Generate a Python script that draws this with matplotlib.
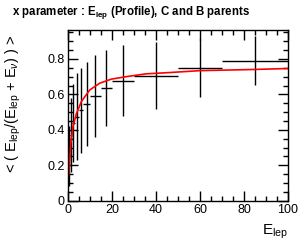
import matplotlib
matplotlib.use('Agg')
import matplotlib.pyplot as plt
from matplotlib.ticker import MultipleLocator
import numpy as np

plt.rcParams['font.family'] = ['Liberation Sans', 'DejaVu Sans']
plt.rcParams['mathtext.fontset'] = 'custom'
plt.rcParams['mathtext.rm'] = 'Liberation Sans'
plt.rcParams['mathtext.it'] = 'Liberation Sans:italic'
plt.rcParams['mathtext.bf'] = 'Liberation Sans:bold'

# profile bins (E_lep edges) and bin means / errors
bin_edges = [0, 1, 2, 3, 5, 7, 10, 15, 20, 30, 50, 70, 100]
means = [0.25, 0.37, 0.44, 0.475, 0.51, 0.546, 0.59, 0.635, 0.676, 0.705, 0.748, 0.791]
errors = [0.17, 0.21, 0.22, 0.245, 0.24, 0.235, 0.233, 0.215, 0.20, 0.19, 0.165, 0.14]

# fitted curve
fit_x = [0.0, 0.45, 1.1, 2.3, 3.8, 6.1, 9.9, 14.4, 19.7, 26.5, 35.6, 46, 60, 82.6, 100]
fit_y = [0.136, 0.155, 0.305, 0.42, 0.49, 0.56, 0.625, 0.663, 0.686, 0.70, 0.716, 0.723, 0.734, 0.74, 0.746]

edges = np.array(bin_edges)
centers = (edges[:-1] + edges[1:]) / 2
half_w = (edges[1:] - edges[:-1]) / 2

fig = plt.figure(figsize=(2.99, 2.45), dpi=100)
ax = fig.add_axes([0.2274, 0.181, 0.7358, 0.697])

ax.errorbar(centers, means, xerr=half_w, yerr=errors, fmt='none',
            ecolor='black', elinewidth=1.0, capsize=0)
ax.plot(fit_x, fit_y, color='red', lw=1.2)

ax.set_xlim(0, 100)
ax.set_ylim(0, 0.964)
ax.xaxis.set_major_locator(MultipleLocator(20))
ax.xaxis.set_minor_locator(MultipleLocator(5))
ax.yaxis.set_major_locator(MultipleLocator(0.2))
ax.yaxis.set_minor_locator(MultipleLocator(0.05))
ax.tick_params(which='both', direction='in', top=True, right=True,
               labelsize=9, pad=2.5, width=1.0)
ax.tick_params(which='major', length=7)
ax.tick_params(which='minor', length=3.5)
ax.set_yticks([0, 0.2, 0.4, 0.6, 0.8])
ax.set_yticklabels(['0', '0.2', '0.4', '0.6', '0.8'])
for s in ax.spines.values():
    s.set_linewidth(1.0)

fig.text(0.04, 0.95, r'x parameter : E$_{\mathbf{lep}}$ (Profile), C and B parents',
         fontsize=8.3, fontweight='bold', ha='left', va='center')
fig.text(0.963, 0.055, r'E$_{\rm lep}$', fontsize=11, ha='right', va='center')
fig.text(0.045, 0.575, r'< ( E$_{\rm lep}$/(E$_{\rm lep}$ + E$_{\nu}$) ) >',
         fontsize=10.5, rotation=90, ha='center', va='center')

plt.savefig('out.png', dpi=100)
